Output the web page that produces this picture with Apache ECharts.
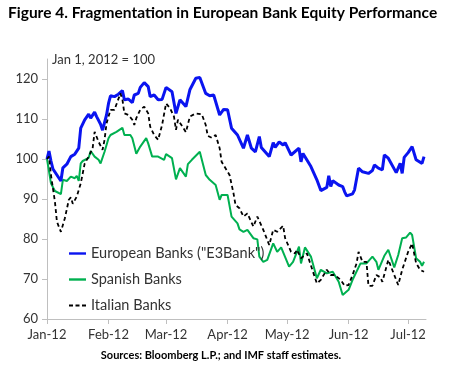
<!DOCTYPE html>
<html>
<head>
<meta charset="utf-8">
<script src="https://cdn.jsdelivr.net/npm/echarts@6/dist/echarts.min.js"></script>
<style>
html,body{margin:0;padding:0;background:#fff;}
#chart{width:452px;height:373px;}
</style>
</head>
<body>
<div id="chart"></div>
<script>
// Days since Jan 1, 2012 and index values (Jan 1, 2012 = 100)
const euroDays = [0,1,2,3,5,7,8,10,12,14,15,16,17,19,21,22,24,25,27,28,30,31,32,34,36,38,39,41,43,44,46,47,49,51,52,54,56,58,60,63,65,67,70,72,75,77,80,82,84,87,89,91,93,96,99,101,103,105,107,108,109,112,114,115,117,119,120,123,127,128,129,133,136,138,141,142,143,144,147,149,150,151,154,155,157,159,162,164,165,167,169,170,172,173,176,178,179,180,182,184,185,186,189,190];
const euroVals = [100,102,99.5,97.5,96,94.5,97.8,98.7,100.6,101.2,101.7,102.7,107.7,109.8,111.2,110.2,111.7,110.6,108.7,107.2,111,113.9,115.8,115.6,116.2,117.1,114.8,115,114.1,116,116.4,117.9,119.1,118.1,115.6,116,114.8,114.9,117.9,116.8,111.4,114.8,113.1,117.3,120.2,120.4,116.4,115.8,116,111,112.4,112.3,107.7,106,102.7,106,102.7,101.8,105.6,102.9,103.3,100.6,104.1,102.9,104.3,103.5,104.1,101,102.7,99.3,101.4,98.1,94.8,92.1,92.9,95.8,93.1,94.6,93.5,93.1,91.8,90.8,91.3,92.3,97.7,96.8,96.4,97.1,98.5,97.7,97.3,101,100.2,99.8,96.6,98.9,96.4,100.4,101.6,103.1,102.7,99.8,98.9,100.6];

const spainDays = [0,2,4,7,8,10,12,14,15,16,17,18,21,22,24,26,27,29,31,32,35,38,39,42,43,45,47,50,51,53,56,59,60,63,65,67,70,71,73,77,78,80,82,85,87,88,91,93,96,97,99,101,104,106,107,109,111,112,114,116,118,122,124,127,128,130,133,136,138,141,144,147,149,152,154,158,159,161,164,166,167,170,172,175,177,179,181,183,184,186,188,189,190];
const spainVals = [100,93.9,92,91.2,94.8,94.5,95.6,95.2,95.8,94.5,98.9,99.5,100.3,102,100.6,99.8,98.9,101.8,105.2,106,106.8,107.8,106,106,105.2,101.3,103.1,105.2,103.9,100.6,100.6,99.8,101.2,100.2,94.9,97.7,95.6,98.7,99.8,101.8,102.1,96,94.8,93.5,89.8,91,91,85.6,83.9,82.4,81.8,82.3,80.2,79.9,75.6,74.3,74.8,74.3,78.9,76.8,77.9,73.1,74.3,78.1,73.9,77.9,75.6,70.2,72.3,71.4,71.8,69.3,66,67.3,69.8,73.9,74.3,73.9,75.6,74.3,72.3,75.8,77.3,72.9,76,80.2,80.4,81.6,81,75.2,74.3,73.3,74.3];

const italyDays = [0,1,2,4,5,7,9,11,12,13,15,17,19,21,23,24,26,28,29,30,32,34,35,37,38,39,41,43,44,45,47,49,51,52,54,56,58,60,62,64,65,66,68,70,72,75,78,80,81,83,85,87,88,91,92,94,95,97,99,101,104,106,109,112,114,116,119,120,123,125,126,128,131,136,138,141,143,145,148,150,152,154,156,157,159,161,162,164,166,168,169,172,173,175,177,179,182,184,186,188,190];
const italyVals = [100,100.6,96,89.3,84.3,81.8,85.2,89.8,90.4,88.8,90.6,93.9,98.9,100.6,102.7,106.8,104.3,102.3,104.8,108.9,112.3,112.3,112.4,116.4,114.9,111.4,111,109.8,108.5,110.2,112.3,113.1,111.4,108.1,106,104.8,108.5,113.9,112.7,110.6,107.3,109.8,108.3,106.7,110.6,111.4,111.2,108.5,105.8,105.3,106,102.7,99.3,96.8,96,91.4,88.5,87.7,85.6,86.4,83.1,85.6,82.3,78.5,82.3,81.8,83.3,80.2,76.8,76.4,77.3,75.2,76.4,68.9,69.8,72.3,71,71,69.8,68.3,68.5,71,73.9,76.8,74.3,74.3,68.3,68.3,71,70.4,69.3,74.8,74.9,71,68.5,72.3,76.8,78.9,74,72.3,71.8];

const seriesNames = ['European Banks ("E3Bank")', 'Spanish Banks', 'Italian Banks'];
const monthLabels = ['Jan','Feb','Mar','Apr','May','Jun','Jul','Aug','Sep','Oct','Nov','Dec'];
const yTicks = [60,70,80,90,100,110,120];

const DAY = 86400000;
const T0 = Date.UTC(2012, 0, 1);
function pairs(days, vals) { return days.map((d, i) => [T0 + d * DAY, vals[i]]); }

const SOLID_ICON = 'path://M0,0h17v2.4H0z';
const DASH_ICON = 'path://M0,0h4v2H0zM6.5,0h4v2h-4zM13,0h4v2h-4z';

const FONT = 'Lato';
const chart = echarts.init(document.getElementById('chart'), null, {renderer: 'canvas'});
chart.setOption({
  useUTC: true,
  animation: false,
  backgroundColor: '#ffffff',
  textStyle: {fontFamily: FONT},
  grid: {left: 47, right: 26, top: 59, bottom: 54, containLabel: false},
  xAxis: {
    type: 'time',
    min: T0,
    max: T0 + 191 * DAY,
    minInterval: 28 * DAY,
    maxInterval: 31 * DAY,
    axisLine: {lineStyle: {color: '#bfbfbf', width: 1}},
    axisTick: {show: true, length: 5, lineStyle: {color: '#bfbfbf'}},
    splitLine: {show: false},
    axisLabel: {
      color: '#333', fontSize: 13, fontFamily: FONT, margin: 9,
      showMinLabel: true, showMaxLabel: false,
      formatter: function (v) { const d = new Date(v); return monthLabels[d.getUTCMonth()] + '-12'; }
    }
  },
  yAxis: {
    type: 'value',
    min: 60, max: 125, interval: 10,
    axisLine: {show: true, lineStyle: {color: '#bfbfbf', width: 1}},
    axisTick: {show: true, length: 5, lineStyle: {color: '#bfbfbf'}},
    splitLine: {show: false},
    axisLabel: {color: '#333', fontSize: 13, fontFamily: FONT, margin: 9, showMaxLabel: false,
      formatter: function (v) { return yTicks.indexOf(v) >= 0 ? String(v) : ''; }}
  },
  legend: {
    orient: 'vertical', left: 64, top: 241,
    itemWidth: 17, itemHeight: 3, itemGap: 11,
    textStyle: {color: '#333', fontSize: 14.5, fontFamily: FONT},
    data: [
      {name: seriesNames[0], icon: SOLID_ICON},
      {name: seriesNames[1], icon: SOLID_ICON},
      {name: seriesNames[2], icon: DASH_ICON}
    ]
  },
  graphic: [
    {type: 'text', left: 8, top: 5, style: {text: 'Figure 4. Fragmentation in European Bank Equity Performance', fill: '#000', font: 'bold 15.5px ' + FONT}},
    {type: 'text', left: 52, top: 53, style: {text: 'Jan 1, 2012 = 100', fill: '#333', font: '13px ' + FONT}},
    {type: 'text', x: 221, y: 355, style: {text: 'Sources: Bloomberg L.P.; and IMF staff estimates.', fill: '#000', font: 'bold 11px ' + FONT, textAlign: 'center', textVerticalAlign: 'middle'}}
  ],
  series: [
    {name: seriesNames[0], type: 'line', data: pairs(euroDays, euroVals), showSymbol: false, symbol: 'none',
     lineStyle: {color: '#0a14f0', width: 3}, itemStyle: {color: '#0a14f0'}, z: 3},
    {name: seriesNames[1], type: 'line', data: pairs(spainDays, spainVals), showSymbol: false, symbol: 'none',
     lineStyle: {color: '#00b050', width: 2}, itemStyle: {color: '#00b050'}, z: 2},
    {name: seriesNames[2], type: 'line', data: pairs(italyDays, italyVals), showSymbol: false, symbol: 'none',
     lineStyle: {color: '#000', width: 1.8, type: [4, 3]}, itemStyle: {color: '#000'}, z: 4}
  ]
});
</script>
</body>
</html>
